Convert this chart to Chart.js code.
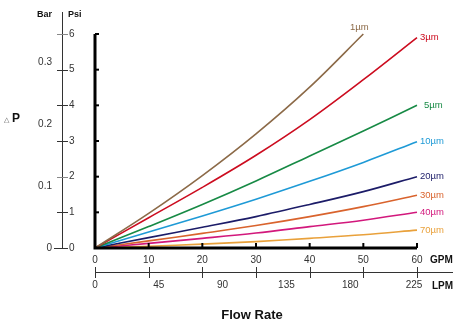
<!DOCTYPE html>
<html>
<head>
<meta charset="utf-8">
<script src="https://cdn.jsdelivr.net/npm/chart.js@4/dist/chart.umd.min.js"></script>
<style>
  html, body { margin: 0; padding: 0; background: #fff; }
  canvas { display: block; }
</style>
</head>
<body>
<canvas id="flowChart" width="457" height="326"></canvas>
<script>
// Flow rate (GPM) points along the x axis
var gpm = [0, 10, 20, 30, 40, 50, 60];
var gpmTicks = [0, 10, 20, 30, 40, 50, 60];
var lpmTicks = [0, 45, 90, 135, 180, 225];
var psiTicks = [0, 1, 2, 3, 4, 5, 6];
var barTicks = [0, 0.1, 0.2, 0.3];
var barToPsi = 17.4; // as drawn on the reference chart
var lpmPerGpm = 3.785;

// Pressure drop (psi) per filter rating
var labels = ["1µm", "3µm", "5µm", "10µm", "20µm", "30µm", "40µm", "70µm"];
var psi1 = [0, 0.97, 2.03, 3.2, 4.51, 6.0];
var psi3 = [0, 0.85, 1.7, 2.6, 3.6, 4.72, 5.9];
var psi5 = [0, 0.6, 1.22, 1.88, 2.58, 3.28, 4.0];
var psi10 = [0, 0.45, 0.9, 1.37, 1.87, 2.4, 2.98];
var psi20 = [0, 0.29, 0.58, 0.88, 1.22, 1.58, 2.0];
var psi30 = [0, 0.2, 0.41, 0.63, 0.88, 1.16, 1.48];
var psi40 = [0, 0.13, 0.27, 0.42, 0.6, 0.78, 1.0];
var psi70 = [0, 0.05, 0.11, 0.18, 0.27, 0.37, 0.5];
var colors = ["#8c6a48", "#cc0c1f", "#178a45", "#1e9ad6", "#1c1c68", "#d9632d", "#d2187c", "#e9a13b"];

var allSeries = [psi1, psi3, psi5, psi10, psi20, psi30, psi40, psi70];

var datasets = [];
for (var i = 0; i < allSeries.length; i++) {
    var pts = [];
    for (var j = 0; j < allSeries[i].length; j++) {
        pts.push({ x: gpm[j], y: allSeries[i][j] });
    }
    datasets.push({
        label: labels[i],
        data: pts,
        borderColor: colors[i],
        borderWidth: 1.6,
        pointRadius: 0,
        tension: 0.35,
        fill: false,
        clip: 6
    });
}

var FONT = '"Liberation Sans", Arial, sans-serif';

// Draws the axes, ticks and text around the plot
var axesPlugin = {
    id: 'axesPlugin',
    afterDatasetsDraw: function (chart) {
        var ctx = chart.ctx;
        var xs = chart.scales.x, ys = chart.scales.y, ls = chart.scales.lpm;
        var x0 = xs.getPixelForValue(0), y0 = ys.getPixelForValue(0);
        ctx.save();

        // main thick axes
        ctx.strokeStyle = '#000';
        ctx.lineWidth = 3;
        ctx.beginPath();
        ctx.moveTo(x0, ys.getPixelForValue(6));
        ctx.lineTo(x0, y0);
        ctx.lineTo(xs.getPixelForValue(60), y0);
        ctx.stroke();
        ctx.lineWidth = 2;
        psiTicks.forEach(function (v) {
            if (v === 0) return;
            var y = ys.getPixelForValue(v);
            ctx.beginPath(); ctx.moveTo(x0, y); ctx.lineTo(x0 + 4, y); ctx.stroke();
        });
        gpmTicks.forEach(function (v) {
            if (v === 0) return;
            var x = xs.getPixelForValue(v);
            ctx.beginPath(); ctx.moveTo(x, y0); ctx.lineTo(x, y0 - 5); ctx.stroke();
        });

        // GPM labels
        ctx.fillStyle = '#333';
        ctx.font = '10px ' + FONT;
        ctx.textAlign = 'center';
        ctx.textBaseline = 'middle';
        gpmTicks.forEach(function (v) {
            ctx.fillText(String(v), xs.getPixelForValue(v), 260);
        });
        ctx.font = 'bold 10px ' + FONT;
        ctx.textAlign = 'left';
        ctx.fillStyle = '#111';
        ctx.fillText('GPM', 430, 260);

        // LPM axis line
        ctx.strokeStyle = '#333';
        ctx.lineWidth = 1;
        ctx.beginPath();
        ctx.moveTo(x0, 272.5); ctx.lineTo(453, 272.5); ctx.stroke();
        gpmTicks.forEach(function (v) {
            var x = Math.round(xs.getPixelForValue(v)) + 0.5;
            ctx.beginPath(); ctx.moveTo(x, 267); ctx.lineTo(x, 278); ctx.stroke();
        });
        ctx.fillStyle = '#333';
        ctx.font = '10px ' + FONT;
        ctx.textAlign = 'center';
        lpmTicks.forEach(function (v) {
            ctx.fillText(String(v), ls.getPixelForValue(v), 285);
        });
        ctx.font = 'bold 10px ' + FONT;
        ctx.textAlign = 'left';
        ctx.fillStyle = '#111';
        ctx.fillText('LPM', 432, 286);

        // Flow Rate title
        ctx.font = 'bold 13px ' + FONT;
        ctx.textAlign = 'center';
        ctx.fillText('Flow Rate', 252, 315);

        // separate Psi / Bar axis
        var ax = 62.5;
        ctx.strokeStyle = '#333';
        ctx.lineWidth = 1;
        ctx.beginPath(); ctx.moveTo(ax, 12); ctx.lineTo(ax, y0); ctx.stroke();
        psiTicks.forEach(function (v) {
            var y = Math.round(ys.getPixelForValue(v)) + 0.5;
            ctx.strokeStyle = (v === 6 || v === 2) ? '#888' : '#333';
            ctx.beginPath(); ctx.moveTo(v === 0 ? 54 : 57, y); ctx.lineTo(68, y); ctx.stroke();
        });
        ctx.fillStyle = '#333';
        ctx.font = '10px ' + FONT;
        ctx.textAlign = 'left';
        psiTicks.forEach(function (v) {
            ctx.fillText(String(v), 69, ys.getPixelForValue(v));
        });
        ctx.textAlign = 'right';
        barTicks.forEach(function (v) {
            ctx.fillText(String(v), 52, ys.getPixelForValue(v * barToPsi));
        });
        ctx.font = 'bold 9px ' + FONT;
        ctx.fillStyle = '#111';
        ctx.textAlign = 'right';
        ctx.fillText('Bar', 52, 15);
        ctx.textAlign = 'left';
        ctx.fillText('Psi', 68, 15);

        // delta P
        ctx.fillStyle = '#555';
        ctx.font = '7px ' + FONT;
        ctx.fillText('\u25B3', 4, 120);
        ctx.fillStyle = '#111';
        ctx.font = 'bold 12px ' + FONT;
        ctx.fillText('P', 12, 119);

        // series labels at line ends
        ctx.font = '9.5px ' + FONT;
        chart.data.datasets.forEach(function (ds, i) {
            var last = ds.data[ds.data.length - 1];
            var px = xs.getPixelForValue(last.x), py = ys.getPixelForValue(last.y);
            ctx.fillStyle = ds.borderColor;
            if (i === 0) {
                ctx.textAlign = 'center';
                ctx.fillText(ds.label, px - 4, py - 7);
            } else {
                ctx.textAlign = 'left';
                ctx.fillText(ds.label, px + (i === 2 ? 7 : 3), py);
            }
        });
        ctx.restore();
    }
};

var chart = new Chart(document.getElementById('flowChart').getContext('2d'), {
    type: 'line',
    data: { datasets: datasets },
    options: {
        responsive: false,
        animation: false,
        layout: { padding: { left: 95, top: 34, right: 40, bottom: 78 } },
        plugins: { legend: { display: false }, tooltip: { enabled: false } },
        scales: {
            x: { type: 'linear', min: 0, max: 60, display: false },
            lpm: { type: 'linear', axis: 'x', min: 0, max: 60 * lpmPerGpm, display: false },
            y: { type: 'linear', min: 0, max: 6, display: false }
        }
    },
    plugins: [axesPlugin]
});
</script>
</body>
</html>
